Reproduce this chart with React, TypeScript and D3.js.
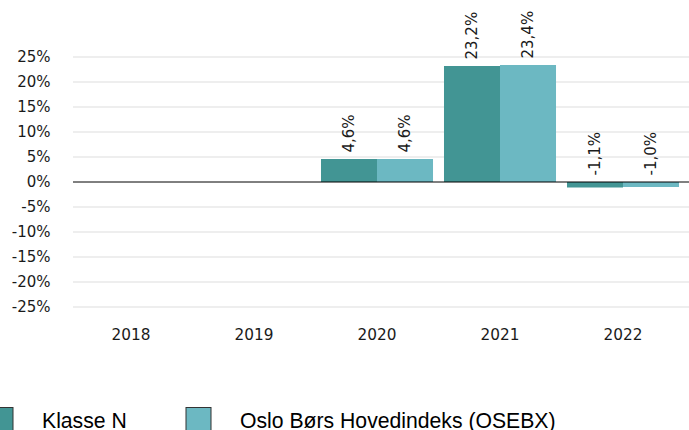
import React from "react";
import * as d3 from "d3";

const years = ["2018", "2019", "2020", "2021", "2022"];
const seriesNames = ["Klasse N", "Oslo Børs Hovedindeks (OSEBX)"];
const klasseN: (number | null)[] = [null, null, 4.6, 23.2, -1.1];
const osebx: (number | null)[] = [null, null, 4.6, 23.4, -1.0];
const yTicks = [-25, -20, -15, -10, -5, 0, 5, 10, 15, 20, 25];
const colors = ["#429594", "#6cb8c2"];

const W = 689;
const H = 430;

export default function App() {
  const x0 = d3.scaleBand<string>().domain(years).range([69.5, 684.5]).padding(0);
  const x1 = d3
    .scaleBand<string>()
    .domain(seriesNames)
    .range([0, x0.bandwidth()])
    .paddingInner(0)
    .paddingOuter(0.098);
  const y = d3.scaleLinear().domain([-25, 25]).range([307, 57]);
  const series = [klasseN, osebx];
  const fmt = (v: number) => v.toFixed(1).replace(".", ",") + "%";

  return (
    <svg
      width={W}
      height={H}
      style={{ position: "absolute", left: 0, top: 0 }}
      fontFamily="'DejaVu Sans', sans-serif"
    >
      {yTicks.map((t) =>
        t === 0 ? null : (
          <line key={"g" + t} x1={73} x2={W} y1={y(t)} y2={y(t)} stroke="#e8e8e8" strokeWidth={1.5} />
        )
      )}
      {yTicks.map((t) => (
        <text key={"yt" + t} x={50.5} y={y(t)} dy="0.36em" textAnchor="end" fontSize={15} fill="#1a1a1a">
          {t + "%"}
        </text>
      ))}
      {years.map((yr) => (
        <text
          key={"xt" + yr}
          x={(x0(yr) as number) + x0.bandwidth() / 2}
          y={334}
          dy="0.36em"
          textAnchor="middle"
          fontSize={15.3}
          fill="#1a1a1a"
        >
          {yr}
        </text>
      ))}
      {series.map((vals, si) =>
        vals.map((v, i) => {
          if (v === null) return null;
          const bx = (x0(years[i]) as number) + (x1(seriesNames[si]) as number);
          const top = y(Math.max(0, v));
          const bottom = y(Math.min(0, v));
          return (
            <rect key={"b" + si + i} x={bx} y={top} width={x1.bandwidth()} height={bottom - top} fill={colors[si]} />
          );
        })
      )}
      <line x1={73} x2={W} y1={y(0)} y2={y(0)} stroke="#000" strokeWidth={1} />
      {series.map((vals, si) =>
        vals.map((v, i) => {
          if (v === null) return null;
          const cx = (x0(years[i]) as number) + (x1(seriesNames[si]) as number) + x1.bandwidth() / 2;
          const ly = y(Math.max(0, v)) - 6.5;
          return (
            <text
              key={"l" + si + i}
              transform={`translate(${cx},${ly}) rotate(-90)`}
              dy="0.33em"
              textAnchor="start"
              fontSize={15}
              fill="#1a1a1a"
            >
              {fmt(v)}
            </text>
          );
        })
      )}
      {seriesNames.map((name, si) => {
        const sx = si === 0 ? -12 : 186;
        return (
          <g key={"lg" + si} fontFamily="'Liberation Sans', Arial, sans-serif">
            <rect x={sx} y={407.5} width={25} height={25} fill={colors[si]} stroke="#333" strokeWidth={1} />
            <text x={sx + 54} y={428} fontSize={21.2} fill="#000">
              {name}
            </text>
          </g>
        );
      })}
    </svg>
  );
}
